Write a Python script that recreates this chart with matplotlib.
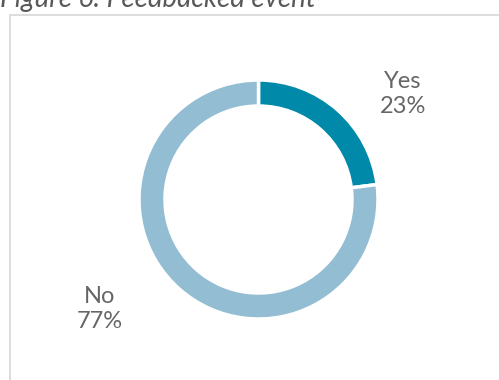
import matplotlib
matplotlib.use("Agg")
import matplotlib.pyplot as plt
from matplotlib.patches import Rectangle

# share of responses
labels = ["Yes", "No"]
shares = [23, 77]
colors = ["#0089a9", "#93bdd3"]

W, H = 499, 380

fig = plt.figure(figsize=(W / 100, H / 100), dpi=100)
ax = fig.add_axes([0, 0, 1, 1])

# chart frame (runs off the right and bottom edge)
ax.add_patch(Rectangle((10, -10), W, H - 15 + 10, fill=False,
                       edgecolor="#dadada", linewidth=1.3))

# caption, partly cut off at the top
ax.text(0, H - 7, "Figure 6: Feedbacked event", fontsize=20, style="italic",
        color="#595959", family="Lato", va="baseline", ha="left")

cx, cy, r = 258.5, H - 199.5, 119.5
ax.pie(shares, colors=colors, startangle=90, counterclock=False,
       center=(cx, cy), radius=r, frame=True,
       wedgeprops=dict(width=26, edgecolor="white", linewidth=2.5))
ax.set_xlim(0, W)
ax.set_ylim(0, H)
ax.set_aspect("equal")
ax.axis("off")

# category labels with percentages
label_pos = [(403, H - 94), (100, H - 309)]
for lab, val, (x, y) in zip(labels, shares, label_pos):
    ax.text(x, y, f"{lab}\n{val}%", fontsize=17, color="#666666",
            family="Lato", ha="center", va="center", linespacing=1.25)

fig.savefig("out.png", dpi=100)
